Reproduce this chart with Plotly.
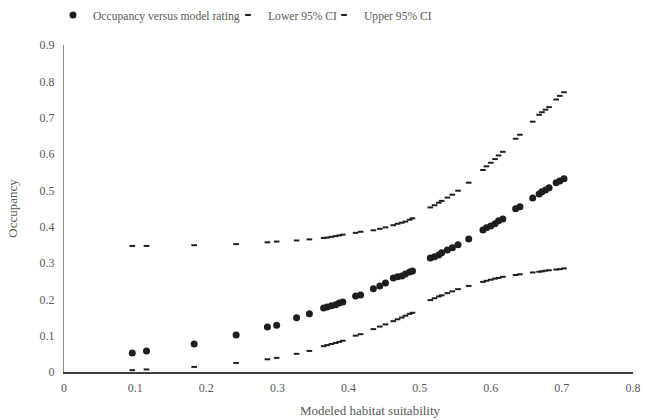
import plotly.graph_objects as go

# Modeled habitat suitability (x)
suitability = [0.096, 0.116, 0.183, 0.242, 0.286, 0.299, 0.327, 0.345,
               0.365, 0.370, 0.376, 0.382, 0.387, 0.392, 0.410, 0.417,
               0.435, 0.444, 0.452, 0.463, 0.469, 0.475, 0.480, 0.486, 0.490,
               0.515, 0.521, 0.527, 0.531, 0.539, 0.546, 0.554, 0.569,
               0.589, 0.594, 0.600, 0.606, 0.611, 0.617, 0.635, 0.641,
               0.659, 0.668, 0.672, 0.677, 0.682, 0.692, 0.697, 0.703]

occupancy = [0.052, 0.058, 0.077, 0.102, 0.124, 0.129, 0.149, 0.160,
             0.176, 0.179, 0.182, 0.185, 0.190, 0.193, 0.209, 0.212,
             0.229, 0.237, 0.245, 0.259, 0.262, 0.264, 0.270, 0.275, 0.278,
             0.314, 0.317, 0.322, 0.328, 0.336, 0.342, 0.350, 0.366,
             0.391, 0.397, 0.402, 0.408, 0.416, 0.421, 0.449, 0.455,
             0.479, 0.490, 0.496, 0.501, 0.507, 0.521, 0.526, 0.532]

lower_ci = [0.005, 0.007, 0.014, 0.025, 0.035, 0.039, 0.050, 0.058,
            0.071, 0.074, 0.077, 0.080, 0.083, 0.086, 0.100, 0.104,
            0.118, 0.125, 0.131, 0.140, 0.145, 0.150, 0.155, 0.160, 0.163,
            0.198, 0.203, 0.208, 0.211, 0.217, 0.222, 0.228, 0.237,
            0.248, 0.251, 0.254, 0.257, 0.259, 0.262, 0.267, 0.269,
            0.274, 0.276, 0.277, 0.279, 0.280, 0.282, 0.283, 0.285]

upper_ci = [0.347, 0.347, 0.349, 0.352, 0.357, 0.359, 0.362, 0.365,
            0.369, 0.370, 0.372, 0.374, 0.376, 0.378, 0.383, 0.386,
            0.390, 0.394, 0.398, 0.404, 0.408, 0.411, 0.414, 0.419, 0.423,
            0.453, 0.459, 0.466, 0.471, 0.480, 0.488, 0.499, 0.521,
            0.556, 0.566, 0.576, 0.586, 0.596, 0.606, 0.642, 0.653,
            0.689, 0.708, 0.715, 0.722, 0.729, 0.750, 0.760, 0.770]

x_ticks = [0, 0.1, 0.2, 0.3, 0.4, 0.5, 0.6, 0.7, 0.8]
x_labels = ["0", "0.1", "0.2", "0.3", "0.4", "0.5", "0.6", "0.7", "0.8"]
y_ticks = [0, 0.1, 0.2, 0.3, 0.4, 0.5, 0.6, 0.7, 0.8, 0.9]
y_labels = ["0", "0.1", "0.2", "0.3", "0.4", "0.5", "0.6", "0.7", "0.8", "0.9"]

FONT = "Liberation Serif"
GREY = "#595959"
INK = "#1e1e1e"

fig = go.Figure()
fig.add_trace(go.Scatter(
    x=suitability, y=occupancy, mode="markers",
    name="Occupancy versus model rating",
    marker=dict(symbol="circle", size=7, color=INK),
    legend="legend"))
fig.add_trace(go.Scatter(
    x=suitability, y=lower_ci, mode="markers", name="Lower 95% CI",
    marker=dict(symbol="line-ew", size=4, line=dict(width=2, color=INK)),
    legend="legend2"))
fig.add_trace(go.Scatter(
    x=suitability, y=upper_ci, mode="markers", name="Upper 95% CI",
    marker=dict(symbol="line-ew", size=4, line=dict(width=2, color=INK)),
    legend="legend3"))

leg_common = dict(orientation="h", xref="container", yref="container",
                  yanchor="middle", y=0.964, xanchor="left",
                  font=dict(family=FONT, size=11.6, color=GREY),
                  bgcolor="rgba(0,0,0,0)", itemwidth=30)

fig.update_layout(
    width=645, height=420,
    margin=dict(l=64, r=12, t=45, b=48, autoexpand=False),
    paper_bgcolor="white", plot_bgcolor="white",
    font=dict(family=FONT, size=12, color=GREY),
    showlegend=True,
    legend=dict(x=(93 - 40) / 645, **leg_common),
    legend2=dict(x=(268 - 40) / 645, **leg_common),
    legend3=dict(x=(364 - 40) / 645, **leg_common),
    xaxis=dict(range=[0, 0.8], tickvals=x_ticks, ticktext=x_labels,
               showgrid=False, zeroline=False, showline=True,
               linecolor="#404040", linewidth=1.5, ticks="",
               ticklabelstandoff=4,
               tickfont=dict(family=FONT, size=12, color=GREY)),
    yaxis=dict(range=[0, 0.9], tickvals=y_ticks, ticktext=y_labels,
               showgrid=False, zeroline=False, showline=True,
               linecolor="#8c8c8c", linewidth=1, ticks="",
               ticklabelstandoff=6,
               title=dict(text="Occupancy", standoff=19,
                          font=dict(family=FONT, size=13, color=GREY)),
               tickfont=dict(family=FONT, size=12, color=GREY)),
    annotations=[dict(text="Modeled habitat suitability", xref="paper",
                      yref="paper", x=(370 - 64) / 569, y=(372 - 410) / 327,
                      xanchor="center", yanchor="middle", showarrow=False,
                      font=dict(family=FONT, size=13, color=GREY))],
)

fig.write_html("out.html",
               config={"displayModeBar": False},
               post_script="document.body.style.margin='0';")
